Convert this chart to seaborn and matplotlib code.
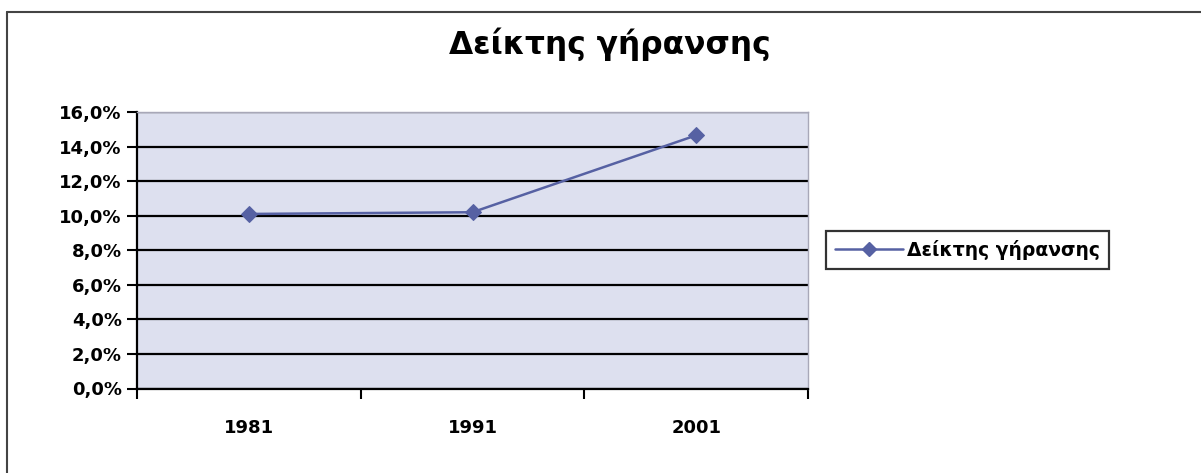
import matplotlib
matplotlib.use('Agg')
import matplotlib.pyplot as plt
import seaborn as sns
import pandas as pd
from matplotlib.lines import Line2D
from matplotlib.ticker import FuncFormatter, FixedLocator

# data
years = ['1981', '1991', '2001']
index_values = [10.1, 10.2, 14.65]
series_name = 'Δείκτης γήρανσης'

df = pd.DataFrame({'pos': range(len(years)), 'value': index_values})

sns.set_style('white')
plt.rcParams['font.family'] = ['DejaVu Sans']
plt.rcParams['text.color'] = 'black'

fig = plt.figure(figsize=(12.01, 4.73), dpi=100)
ax = fig.add_axes([137 / 1201, 1 - 388.5 / 473, (808 - 137) / 1201, (388.5 - 112) / 473])
ax.set_facecolor('#dde0ef')

line_color = '#5661a3'
sns.lineplot(data=df, x='pos', y='value', ax=ax, color=line_color, lw=1.8,
             marker='D', markersize=8, markeredgecolor=line_color, label=series_name)

ax.set_xlim(-0.5, len(years) - 0.5)
ax.set_ylim(0, 16)
ax.set_yticks(range(0, 17, 2))
ax.yaxis.set_major_formatter(FuncFormatter(lambda v, _: f'{v:.1f}%'.replace('.', ',')))
ax.set_xticks(range(len(years)))
ax.set_xticklabels(years)
ax.xaxis.set_minor_locator(FixedLocator([i - 0.5 for i in range(len(years) + 1)]))
ax.tick_params(axis='x', which='major', bottom=True, length=0, pad=22, labelcolor='black')
ax.tick_params(axis='x', which='minor', bottom=True, length=7, width=1.5, color='black',
               direction='out')
ax.tick_params(axis='y', left=True, length=7, width=1.5, color='black', direction='out',
               pad=4, labelcolor='black')
for lab in ax.get_xticklabels() + ax.get_yticklabels():
    lab.set_fontsize(13)
    lab.set_fontweight('bold')

ax.grid(axis='y', color='black', lw=1.6)
ax.grid(axis='x', visible=False)
ax.set_axisbelow(True)
ax.set_xlabel('')
ax.set_ylabel('')
for side in ['left', 'bottom']:
    ax.spines[side].set_color('black')
    ax.spines[side].set_linewidth(1.6)
for side in ['top', 'right']:
    ax.spines[side].set_color('#a8a8b8')
    ax.spines[side].set_linewidth(1)

ax.get_legend().remove()
handle = Line2D([], [], color=line_color, lw=1.8, marker='D', markersize=7)
leg = fig.legend([handle], [series_name], loc='center left',
                 bbox_to_anchor=(826 / 1201, 1 - 250 / 473), borderaxespad=0, frameon=True,
                 fancybox=False, handlelength=3.6, borderpad=0.5, handletextpad=0.2,
                 prop={'weight': 'bold', 'size': 13.5})
leg.get_frame().set_edgecolor('black')
leg.get_frame().set_linewidth(1.6)

fig.text(610 / 1201, 1 - 44 / 473, 'Δείκτης γήρανσης', ha='center', va='center',
         fontsize=22.5, fontweight='bold', color='black')

# outer chart border (left and top visible)
fig.add_artist(Line2D([7 / 1201, 7 / 1201], [0, 1 - 12 / 473], color='#444444', lw=1.5,
                      transform=fig.transFigure))
fig.add_artist(Line2D([7 / 1201, 1], [1 - 12 / 473, 1 - 12 / 473], color='#444444', lw=1.5,
                      transform=fig.transFigure))

plt.savefig('out.png', dpi=100)
